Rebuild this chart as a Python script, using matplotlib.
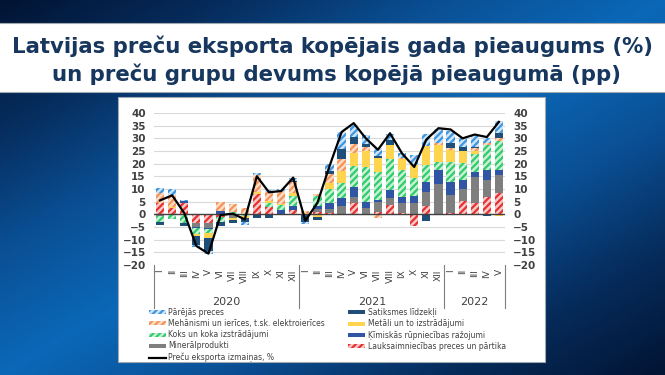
import matplotlib.pyplot as plt
import matplotlib.patches as mpatches
import matplotlib.lines as mlines
import matplotlib.transforms as mtransforms
import numpy as np

plt.rcParams['hatch.linewidth'] = 1.6

months = ["I", "II", "III", "IV", "V", "VI", "VII", "VIII", "IX", "X", "XI", "XII",
          "I", "II", "III", "IV", "V", "VI", "VII", "VIII", "IX", "X", "XI", "XII",
          "I", "II", "III", "IV", "V"]
years = ["2020", "2021", "2022"]
year_lengths = [12, 12, 5]

# contributions, pp (2020 I ... 2022 V)
agric = [4.5, 2.5, 4.5, -3.3, -3.6, -1.0, 0.0, 0.0, 8.0, 3.0, 0.0, 1.7,
         0.0, 1.0, 0.4, 0.0, 4.4, 0.0, 1.0, 3.7, 0.4, -4.8, 3.3, 0.0,
         0.4, 5.3, 4.4, 7.0, 8.3]
minerals = [-0.5, 0.0, 0.0, -1.7, -1.7, 0.0, -1.5, 0.0, 0.0, 0.0, 0.0, 0.0,
            0.0, 1.3, 1.7, 3.3, 2.6, 2.6, 3.9, 2.9, 4.0, 4.4, 5.7, 11.9,
            7.3, 4.7, 10.5, 6.6, 7.3]
chem = [0.0, 0.0, 0.8, -0.3, -0.3, 1.5, 0.0, 0.0, 0.0, 0.0, 1.6, 1.7,
        -0.5, 0.8, 2.3, 3.0, 3.6, 2.4, 0.8, 3.0, 2.6, 2.9, 3.7, 5.6,
        5.0, 3.6, 1.7, 3.9, 1.9]
wood = [-2.5, -2.0, -3.5, -2.4, -1.6, -2.0, 1.0, -0.8, 0.0, 1.5, 2.2, 3.9,
        0.0, 4.0, 5.5, 6.0, 8.3, 13.5, 11.2, 12.2, 10.5, 6.9, 6.6, 3.3,
        8.1, 6.8, 7.1, 9.9, 11.3]
metals = [0.0, 0.3, 0.0, -1.0, -2.3, 0.0, -0.8, -0.6, 1.0, 0.7, 0.3, 1.0,
          0.5, -1.0, 2.4, 4.9, 5.2, 6.6, 5.3, 5.6, 4.4, 5.3, 7.5, 6.4,
          4.6, 4.7, 1.3, 0.0, -0.5]
machinery = [4.0, 4.8, 0.0, 0.0, 0.0, 3.2, 3.0, 2.6, 6.5, 3.8, 5.0, 4.4,
             1.0, 0.8, 3.7, 4.6, 3.6, 1.4, -1.3, 0.0, 0.5, 0.0, 0.0, 0.9,
             0.7, 0.0, 1.1, 0.9, 1.5]
transport = [-1.2, 0.0, -1.0, -3.5, -4.9, -1.5, -1.2, -1.6, -1.5, -1.3, 0.0, 0.5,
             -2.5, -1.3, 1.1, 3.9, 3.0, 1.2, 0.7, 2.0, 0.0, 0.0, -2.6, 0.0,
             2.0, 1.3, 0.6, -0.5, 1.7]
other = [2.0, 2.3, 0.3, -0.8, -1.3, 0.0, 0.0, -1.2, 1.0, 0.8, 0.8, 1.2,
         -1.0, 0.0, 2.8, 6.7, 4.7, 3.7, 3.3, 2.4, 2.0, 4.0, 5.0, 5.5,
         4.9, 3.9, 4.3, 2.0, 4.9]
total = [5.5, 7.5, 0.5, -12.5, -15.5, -0.3, 0.3, -2.0, 15.0, 8.7, 9.2, 14.5,
         -2.5, 4.5, 19.0, 32.5, 36.0, 30.0, 25.5, 32.0, 24.0, 18.7, 29.5, 34.0,
         33.5, 30.0, 31.5, 30.5, 36.5]

# (values, label, face, hatch colour or None)
series = [
    (agric, "Lauksaimniecības preces un pārtika", "#f6c9c9", "#e8312f"),
    (minerals, "Minerālprodukti", "#7f7f7f", None),
    (chem, "Ķīmiskās rūpniecības ražojumi", "#2f55a4", None),
    (wood, "Koks un koka izstrādājumi", "#c9f0d5", "#2ecc6a"),
    (metals, "Metāli un to izstrādājumi", "#ffd54f", None),
    (machinery, "Mehānismi un ierīces, t.sk. elektroierīces", "#fbdcc6", "#f4945a"),
    (transport, "Satiksmes līdzekļi", "#1f4e79", None),
    (other, "Pārējās preces", "#cfe4f7", "#3d96e0"),
]
line_label = "Preču eksporta izmaiņas, %"

W, H = 665, 375
fig = plt.figure(figsize=(W / 100, H / 100), dpi=100)

# slide background: bright along the anti-diagonal, dark in two corners
bg = fig.add_axes([0, 0, 1, 1])
gx, gy = np.meshgrid(np.linspace(0, 1, 200), np.linspace(0, 1, 120))
d = np.abs(gx + gy - 1)
cmap = plt.matplotlib.colors.LinearSegmentedColormap.from_list(
    "slide", ["#0b68b8", "#0a4f94", "#062c5c", "#021434"])
bg.imshow(d, aspect="auto", cmap=cmap, extent=[0, W, H, 0], vmin=0, vmax=1)
bg.set_xlim(0, W)
bg.set_ylim(H, 0)
bg.axis("off")
bg.add_patch(mpatches.Rectangle((-2, 23), W + 4, 69, facecolor="white",
                                edgecolor="#a0a8b0", linewidth=0.8))
bg.add_patch(mpatches.Rectangle((118, 97), 427, 265, facecolor="white",
                                edgecolor="#a0a8b0", linewidth=0.8))
bg.text(333, 46, "Latvijas preču eksporta kopējais gada pieaugums (%)",
        ha="center", va="center", fontsize=15.3, fontweight="bold", color="#17375e")
bg.text(336, 74, "un preču grupu devums kopējā pieaugumā (pp)",
        ha="center", va="center", fontsize=15.3, fontweight="bold", color="#17375e")

# chart
ax = fig.add_axes([154 / W, (H - 265) / H, (505 - 154) / W, (265 - 113) / H])
x = np.arange(len(months))
pos_bottom = np.zeros(len(x))
neg_bottom = np.zeros(len(x))
handles = {}
for vals, label, face, hcol in series:
    v = np.array(vals)
    bottom = np.where(v >= 0, pos_bottom, neg_bottom)
    if hcol:
        ax.bar(x, v, 0.68, bottom=bottom, color=face, edgecolor=hcol,
               hatch="/////", linewidth=0, zorder=3)
        handles[label] = mpatches.Patch(facecolor=face, edgecolor=hcol,
                                        hatch="/////", linewidth=0)
    else:
        ax.bar(x, v, 0.68, bottom=bottom, color=face, linewidth=0, zorder=3)
        handles[label] = mpatches.Patch(facecolor=face, linewidth=0)
    pos_bottom += np.where(v > 0, v, 0)
    neg_bottom += np.where(v < 0, v, 0)

ax.plot(x, total, color="black", linewidth=1.6, zorder=5)
handles[line_label] = mlines.Line2D([], [], color="black", linewidth=1.6)

ax.set_xlim(-0.5, len(x) - 0.5)
ax.set_ylim(-20, 40)
ax.set_yticks(range(-20, 41, 5))
ax.grid(axis="y", color="#d9d9d9", linewidth=0.8, zorder=0)
ax.axhline(0, color="#404040", linewidth=1.0, zorder=4)
for s in ax.spines.values():
    s.set_visible(False)
ax.tick_params(axis="y", length=0, labelsize=7.5, labelcolor="#404040",
               labelright=True, pad=6)
for lab in ax.get_yticklabels():
    lab.set_fontweight("bold")
ax.set_xticks(x)
ax.set_xticklabels(months, rotation=90, fontsize=6.5, color="#404040", va="top")
ax.tick_params(axis="x", length=0, pad=3)

# category separators and year labels
trans = mtransforms.blended_transform_factory(ax.transData, ax.transAxes)
edges = np.concatenate([[0], np.cumsum(year_lengths)]) - 0.5
for e in edges:
    ax.plot([e, e], [0, -0.28], color="#7f7f7f", linewidth=0.8,
            transform=trans, clip_on=False)
for i, yl in enumerate(years):
    ax.text((edges[i] + edges[i + 1]) / 2, -0.245, yl, transform=trans,
            ha="center", va="center", fontsize=8, color="#404040")

order = ["Pārējās preces", "Mehānismi un ierīces, t.sk. elektroierīces",
         "Koks un koka izstrādājumi", "Minerālprodukti", line_label,
         "Satiksmes līdzekļi", "Metāli un to izstrādājumi",
         "Ķīmiskās rūpniecības ražojumi", "Lauksaimniecības preces un pārtika"]
fig.legend([handles[k] for k in order], order, ncol=2, loc="upper left",
           bbox_to_anchor=(149 / W, 1 - 308 / H), frameon=False, fontsize=5.5,
           handlelength=2.2, handleheight=0.45, handletextpad=0.35,
           labelspacing=0.28, columnspacing=3.0, labelcolor="#404040",
           borderpad=0, borderaxespad=0)

fig.savefig("out.png", dpi=100)
